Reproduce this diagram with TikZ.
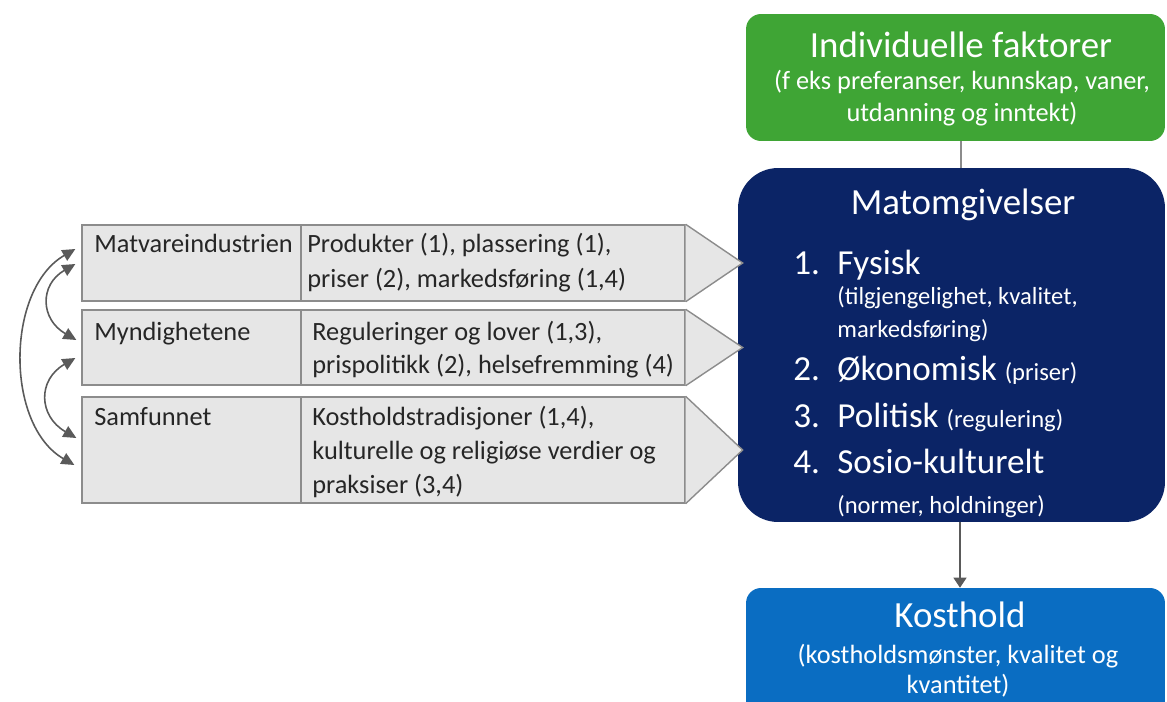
\documentclass[tikz,border=0pt]{standalone}
\usepackage{fontspec}
\setmainfont{Carlito}
\usetikzlibrary{positioning, arrows.meta, calc}
\definecolor{indGreen}{HTML}{3FA535}
\definecolor{envNavy}{HTML}{0B2466}
\definecolor{dietBlue}{HTML}{0A6DC2}
\definecolor{rowGray}{HTML}{E6E6E6}
\definecolor{lineGray}{HTML}{8C8C8C}
\definecolor{arrGray}{HTML}{5A5A5A}
\tikzset{
  factorBox/.style={rounded corners=0.3cm, minimum width=8.38cm, minimum height=2.54cm, inner sep=0pt},
  envBox/.style={fill=envNavy, rounded corners=0.8cm, minimum width=8.54cm, minimum height=7.08cm, inner sep=0pt},
  rowBox/.style={draw=lineGray, fill=rowGray, line width=0.8pt, minimum width=12.06cm, inner sep=0pt},
  rowTri/.style={draw=lineGray, fill=rowGray, line width=0.8pt},
  rowTxt/.style={anchor=base west, inner sep=0pt, font=\fontsize{15}{18}\selectfont, text=black!85},
  bigTxt/.style={anchor=base, inner sep=0pt, text=white, font=\fontsize{21}{25}\selectfont},
  subTxt/.style={anchor=base, inner sep=0pt, text=white, font=\fontsize{15}{18}\selectfont},
  itemTxt/.style={anchor=base west, inner sep=0pt, text=white, font=\fontsize{20}{24}\selectfont},
  noteTxt/.style={anchor=base west, inner sep=0pt, text=white, font=\fontsize{14}{17}\selectfont},
  loopArr/.style={{Triangle[length=0.26cm, width=0.24cm]}-{Triangle[length=0.26cm, width=0.24cm]}, draw=arrGray, line width=0.9pt},
  flowArr/.style={-{Triangle[length=0.2cm, width=0.26cm]}, draw=arrGray, line width=0.8pt},
  link/.style={draw=lineGray, line width=0.8pt},
}
\newcommand{\noteSize}{\fontsize{14}{17}\selectfont}
\begin{document}
\begin{tikzpicture}[x=0.02cm, y=0.02cm]
  \clip (0,0) rectangle (1167,701);
  % --- right column: individual factors, food environment, diet ---
  \node[factorBox, fill=indGreen] (indiv) at (955.5,623.5) {};
  \node[bigTxt] (indivT) at (961,643) {Individuelle faktorer};
  \node[subTxt] (indivS1) at (962,611) {(f eks preferanser, kunnskap, vaner,};
  \node[subTxt] (indivS2) at (962,579) {utdanning og inntekt)};

  \node[envBox] (matomg) at (951.5,356) {};
  \node[bigTxt] (matomgT) at (963,486) {Matomgivelser};
  \node[itemTxt] (fys) at (793,426) {\makebox[0.88cm][l]{1.}Fysisk};
  \node[noteTxt] (fysS1) at (837,397) {(tilgjengelighet, kvalitet,};
  \node[noteTxt] (fysS2) at (837,364) {markedsføring)};
  \node[itemTxt] (oko) at (793,321) {\makebox[0.88cm][l]{2.}Økonomisk {\noteSize(priser)}};
  \node[itemTxt] (pol) at (793,274) {\makebox[0.88cm][l]{3.}Politisk {\noteSize(regulering)}};
  \node[itemTxt] (sos) at (793,228) {\makebox[0.88cm][l]{4.}Sosio-kulturelt};
  \node[noteTxt] (sosS) at (837,188) {(normer, holdninger)};

  \node[factorBox, fill=dietBlue, minimum height=2.6cm] (kost) at (955.5,48) {};
  \node[bigTxt] (kostT) at (960,74) {Kosthold};
  \node[subTxt] (kostS1) at (958,38) {(kostholdsmønster, kvalitet og};
  \node[subTxt] (kostS2) at (958,8) {kvantitet)};

  \draw[link] (indiv.south -| indivT) -- (matomg.north -| indivT);
  \draw[flowArr] (matomg.south -| kostT) -- (kost.north -| kostT);

  % --- left column: the three actors ---
  \coordinate (div) at (301,0);
  \node[rowBox, minimum height=1.52cm] (ind) at (383.5,438) {};
  \node[rowBox, minimum height=1.5cm] (myn) at (383.5,353.5) {};
  \node[rowBox, minimum height=2.12cm] (sam) at (383.5,251) {};
  \foreach \r in {ind, myn, sam} {
    \draw[rowTri] (\r.north east) -- ([xshift=1.14cm]\r.east) -- (\r.south east);
    \draw[link] (\r.north -| div) -- (\r.south -| div);
  }
  \node[rowTxt] (indLab) at (94,448) {Matvareindustrien};
  \node[rowTxt] (indTxt1) at (307,448) {Produkter (1), plassering (1),};
  \node[rowTxt] (indTxt2) at (307,414) {priser (2), markedsføring (1,4)};
  \node[rowTxt] (mynLab) at (94,361) {Myndighetene};
  \node[rowTxt] (mynTxt1) at (312,361) {Reguleringer og lover (1,3),};
  \node[rowTxt] (mynTxt2) at (312,328) {prispolitikk (2), helsefremming (4)};
  \node[rowTxt] (samLab) at (94,276) {Samfunnet};
  \node[rowTxt] (samTxt1) at (312,276) {Kostholdstradisjoner (1,4),};
  \node[rowTxt] (samTxt2) at (312,242) {kulturelle og religiøse verdier og};
  \node[rowTxt] (samTxt3) at (312,208) {praksiser (3,4)};

  % mutual influence between the actors
  \draw[loopArr] ([xshift=-0.12cm, yshift=0.28cm]ind.west) to[out=210, in=150, looseness=0.95] ([xshift=-0.14cm, yshift=-0.3cm]sam.west);
  \draw[loopArr] ([xshift=-0.12cm, yshift=-0.02cm]ind.west) to[out=210, in=150, looseness=1.4] ([xshift=-0.1cm, yshift=0.15cm]myn.west);
  \draw[loopArr] ([xshift=-0.12cm, yshift=-0.21cm]myn.west) to[out=210, in=150, looseness=1.4] ([xshift=-0.1cm, yshift=0.24cm]sam.west);
\end{tikzpicture}
\end{document}
